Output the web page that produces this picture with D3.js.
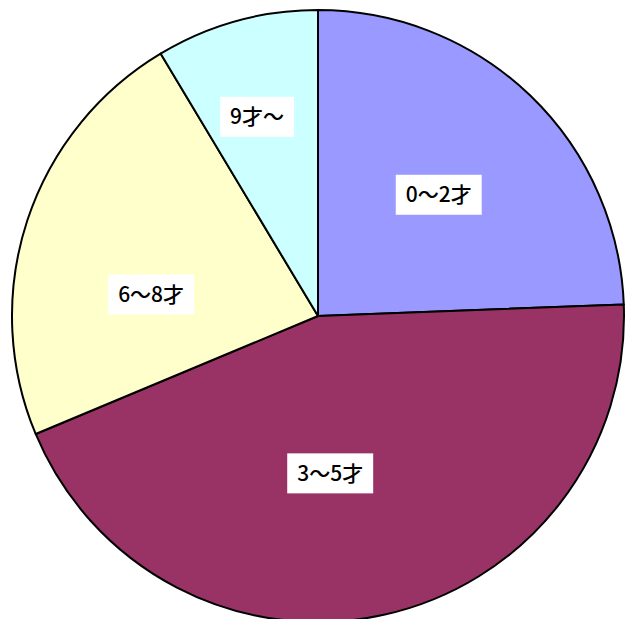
<!DOCTYPE html>
<html lang="ja">
<head>
  <meta charset="UTF-8">
  <title>年齢別構成</title>
  <script src="https://d3js.org/d3.v7.min.js"></script>
  <style>
    body { margin: 0; background: #fff; }
    text { font-family: "Noto Sans CJK JP", "Noto Sans", sans-serif; }
  </style>
</head>
<body>
  <script>
    // slice data, clockwise from 12 o'clock
    const categories = ["0～2才", "3～5才", "6～8才", "9才～"];
    const shares = [24.4, 44.3, 22.7, 8.6];
    const colors = ["#9999FF", "#993366", "#FFFFCC", "#CCFFFF"];

    // layout
    const width = 627, height = 619;
    const cx = 318, cy = 316, radius = 306;
    // small hand adjustments for label boxes, relative to centroid
    const labelNudge = [[4, 0], [-24, -7], [-7, 31], [-16, -37]];

    const svg = d3.select("body")
      .append("svg")
      .attr("width", width)
      .attr("height", height);

    const g = svg.append("g")
      .attr("transform", `translate(${cx},${cy})`);

    const pie = d3.pie().sort(null).value(d => d);
    const arcs = pie(shares);

    const arc = d3.arc().innerRadius(0).outerRadius(radius);
    const labelArc = d3.arc().innerRadius(radius * 0.55).outerRadius(radius * 0.55);

    // slices
    g.selectAll(".slice")
      .data(arcs)
      .enter()
      .append("path")
      .attr("class", "slice")
      .attr("d", arc)
      .style("fill", (d, i) => colors[i])
      .style("stroke", "#000")
      .style("stroke-width", 2)
      .style("stroke-linejoin", "round");

    // labels with white boxes
    const label = g.selectAll(".label")
      .data(arcs)
      .enter()
      .append("g")
      .attr("class", "label")
      .attr("transform", (d, i) => {
        const [x, y] = labelArc.centroid(d);
        return `translate(${x + labelNudge[i][0]},${y + labelNudge[i][1]})`;
      });

    label.append("rect")
      .style("fill", "#fff");

    label.append("text")
      .attr("text-anchor", "middle")
      .attr("dy", "0.36em")
      .style("font-size", "21px")
      .style("font-weight", 500)
      .style("fill", "#000")
      .text((d, i) => categories[i]);

    label.each(function () {
      const t = d3.select(this).select("text").node().getBBox();
      d3.select(this).select("rect")
        .attr("x", -t.width / 2 - 10)
        .attr("y", -20)
        .attr("width", t.width + 20)
        .attr("height", 40);
    });
  </script>
</body>
</html>
